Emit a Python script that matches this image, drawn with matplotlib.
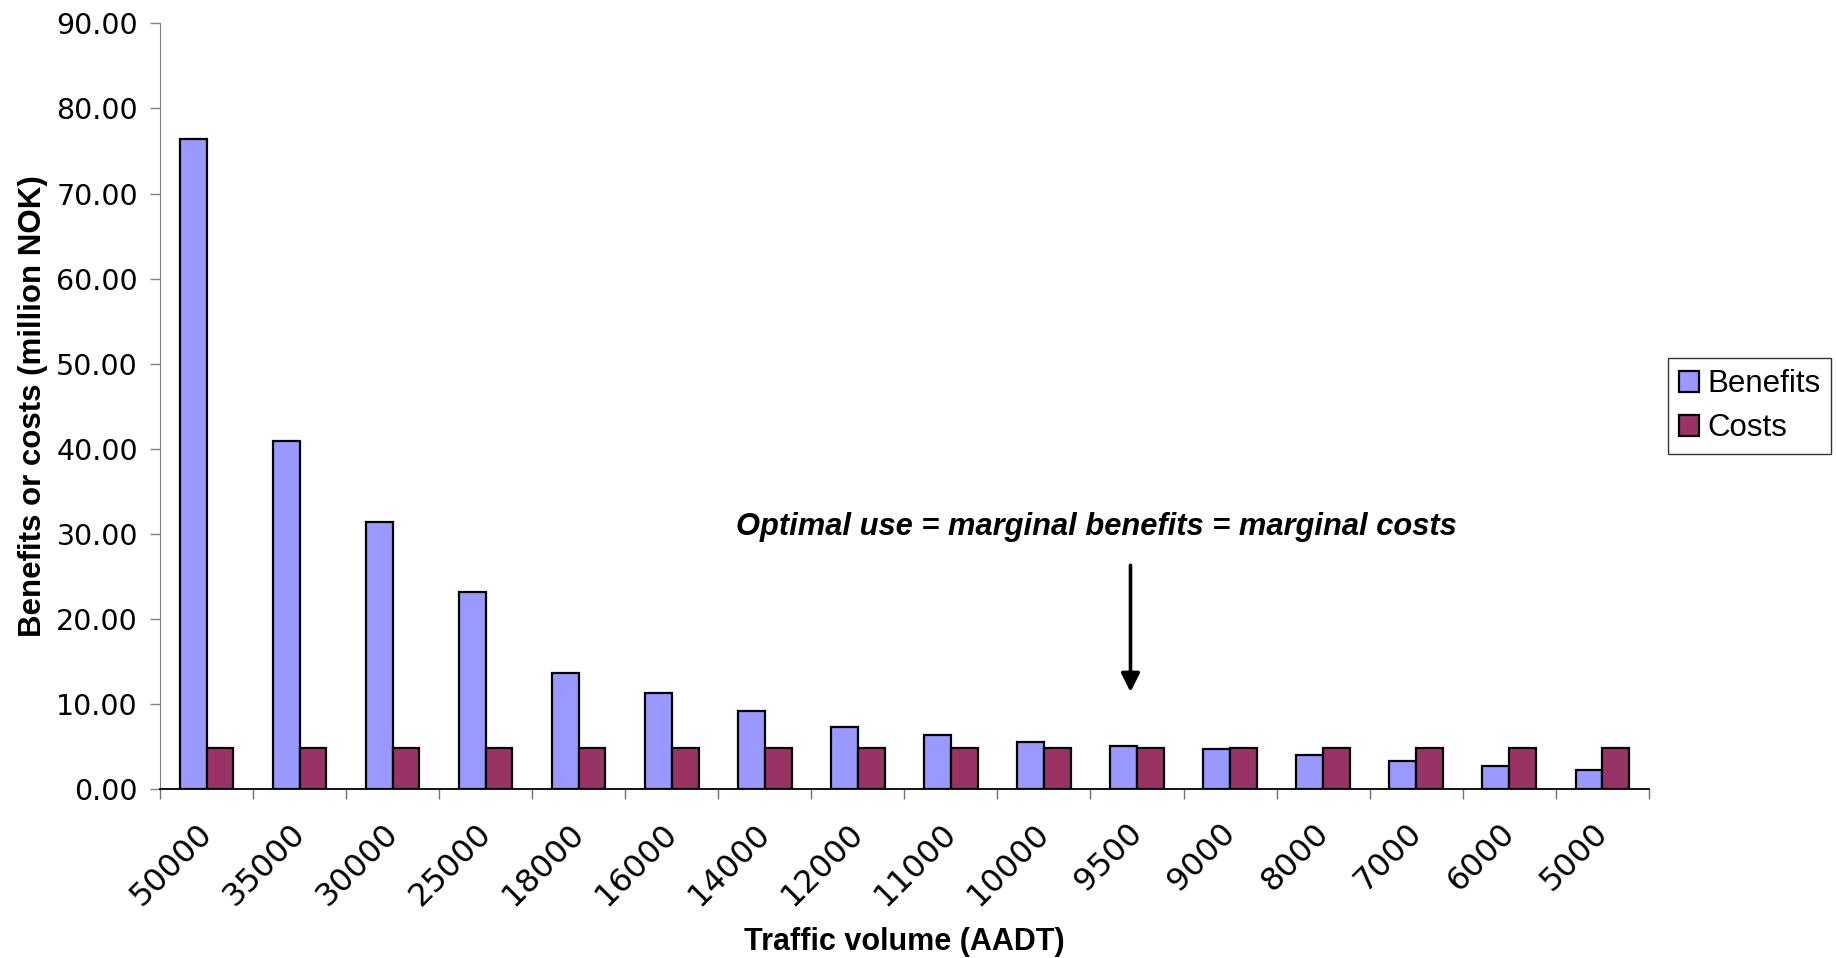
import numpy as np
import matplotlib
matplotlib.use("Agg")
import matplotlib.pyplot as plt
import matplotlib.transforms as mtransforms
from matplotlib.ticker import FormatStrFormatter

traffic = ["50000", "35000", "30000", "25000", "18000", "16000", "14000", "12000",
           "11000", "10000", "9500", "9000", "8000", "7000", "6000", "5000"]
benefits = [76.4, 40.9, 31.4, 23.1, 13.6, 11.25, 9.2, 7.3,
            6.4, 5.57, 5.1, 4.7, 4.0, 3.33, 2.67, 2.24]
costs = [4.8] * 16

plt.rcParams["font.family"] = ["Liberation Sans", "DejaVu Sans"]

fig = plt.figure(figsize=(18.36, 9.58), dpi=100)
ax = fig.add_axes([0.0872, 0.1764, 0.8108, 0.7992])

x = np.arange(len(traffic)) + 0.5
w = 0.287
ax.bar(x - w / 2, benefits, w, color="#9999FF", edgecolor="black", linewidth=1.6,
       label="Benefits")
ax.bar(x + w / 2, costs, w, color="#993366", edgecolor="black", linewidth=1.6,
       label="Costs")

ax.set_xlim(0, len(traffic))
ax.set_ylim(0, 90)
ax.set_yticks(np.arange(0, 91, 10))
ax.yaxis.set_major_formatter(FormatStrFormatter("%.2f"))
ax.set_xticks(np.arange(0, len(traffic) + 1))
ax.set_xticklabels([])
ax.set_xticks(x, minor=True)
ax.set_xticklabels(traffic, minor=True, rotation=45, ha="right",
                   rotation_mode="anchor", fontsize=23, family="DejaVu Sans")
ax.tick_params(axis="x", which="minor", length=0, pad=22)
ax.tick_params(axis="x", which="major", length=7, width=1, color="#707070")
ax.tick_params(axis="y", length=7, width=1, color="#808080", pad=9)
for t in ax.get_yticklabels():
    t.set_fontfamily("DejaVu Sans")
    t.set_fontsize(20.5)

# nudge the rotated category labels a little left, as in the original
shift = mtransforms.ScaledTranslation(-0.10, 0.02, fig.dpi_scale_trans)
for t in ax.get_xticklabels(minor=True):
    t.set_transform(t.get_transform() + shift)

for s in ["top", "right"]:
    ax.spines[s].set_visible(False)
ax.spines["left"].set_color("#808080")
ax.spines["bottom"].set_color("black")
ax.spines["bottom"].set_linewidth(1.3)

ax.set_ylabel("Benefits or costs (million NOK)", fontsize=22.5, fontweight="bold")
ax.yaxis.set_label_coords(-0.075, 0.5)
ax.set_xlabel("Traffic volume (AADT)", fontsize=22, fontweight="bold")
ax.xaxis.set_label_coords(0.4997, -0.18)

ax.text(10.06, 30.8, "Optimal use = marginal benefits = marginal costs",
        fontsize=22.2, fontweight="bold", fontstyle="italic", ha="center", va="center")
ax.annotate("", xy=(10.43, 11.4), xytext=(10.43, 26.3),
            arrowprops=dict(arrowstyle="-|>", lw=2.6, color="black", mutation_scale=28,
                            shrinkA=0, shrinkB=0))

leg = ax.legend(loc="center left", bbox_to_anchor=(1.013, 0.5), fontsize=22.5,
                frameon=True, fancybox=False, edgecolor="black", handlelength=0.65,
                handleheight=0.65, handletextpad=0.25, borderpad=0.35,
                labelspacing=0.45, borderaxespad=0)
leg.get_frame().set_linewidth(1.0)

fig.savefig("out.png", dpi=100)
